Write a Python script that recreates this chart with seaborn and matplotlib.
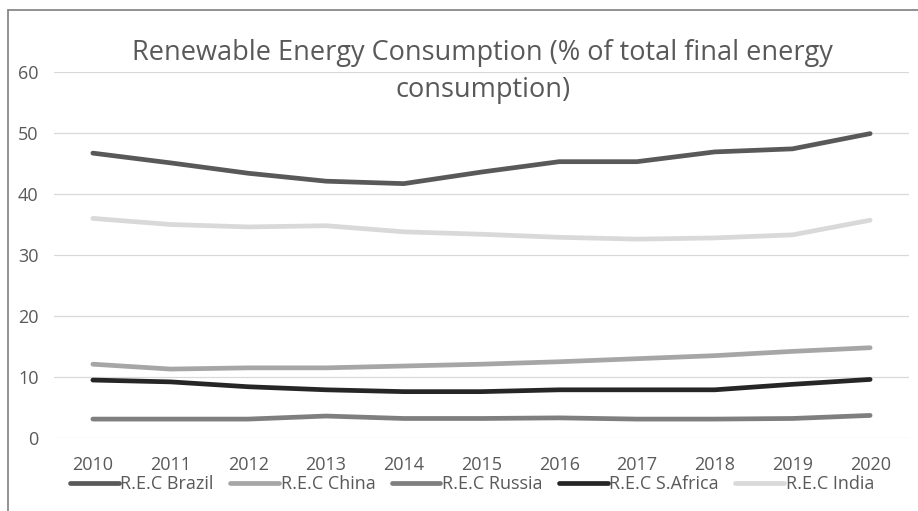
import matplotlib
matplotlib.use("Agg")
import matplotlib.pyplot as plt
import matplotlib.lines as mlines
import seaborn as sns
import pandas as pd

years = [2010, 2011, 2012, 2013, 2014, 2015, 2016, 2017, 2018, 2019, 2020]
brazil = [46.7, 45.1, 43.4, 42.1, 41.7, 43.6, 45.3, 45.3, 46.9, 47.4, 49.9]
china = [12.1, 11.3, 11.5, 11.5, 11.8, 12.1, 12.5, 13.0, 13.5, 14.2, 14.8]
russia = [3.1, 3.1, 3.1, 3.6, 3.2, 3.2, 3.3, 3.1, 3.1, 3.2, 3.7]
s_africa = [9.5, 9.2, 8.4, 7.9, 7.6, 7.6, 7.9, 7.9, 7.9, 8.8, 9.6]
india = [36.0, 35.0, 34.6, 34.8, 33.8, 33.4, 32.9, 32.6, 32.8, 33.3, 35.7]

series_names = ["R.E.C Brazil", "R.E.C China", "R.E.C Russia", "R.E.C S.Africa", "R.E.C India"]
series_values = [brazil, china, russia, s_africa, india]
colors = ["#595959", "#a6a6a6", "#7f7f7f", "#262626", "#d9d9d9"]

title = "Renewable Energy Consumption (% of total final energy\nconsumption)"

rows = []
for name, vals in zip(series_names, series_values):
    for i, (yr, v) in enumerate(zip(years, vals)):
        rows.append({"pos": i, "year": yr, "value": v, "series": name})
df = pd.DataFrame(rows)

sns.set_theme(style="white")
plt.rcParams["font.family"] = ["Open Sans", "DejaVu Sans"]

fig = plt.figure(figsize=(9.18, 5.11), dpi=100)
ax = fig.add_axes([54 / 918, (511 - 438) / 511, (909 - 54) / 918, (438 - 72) / 511])

palette = dict(zip(series_names, colors))
sns.lineplot(data=df, x="pos", y="value", hue="series", palette=palette,
             hue_order=series_names, linewidth=3.4, ax=ax, legend=False,
             solid_capstyle="round")

ax.set_xlim(-0.5, len(years) - 0.5)
ax.set_ylim(0, 60)
ax.set_yticks(range(0, 61, 10))
ax.set_xticks(range(len(years)))
ax.set_xticklabels([str(y) for y in years])
ax.tick_params(axis="both", length=0, labelsize=13, labelcolor="#595959")
ax.tick_params(axis="y", pad=11)
ax.tick_params(axis="x", pad=13)
ax.set_xlabel("")
ax.set_ylabel("")
ax.yaxis.grid(True, color="#d9d9d9", linewidth=0.9)
ax.set_axisbelow(True)
for sp in ax.spines.values():
    sp.set_visible(False)

fig.text(0.526, 1 - 39 / 511, title, ha="center", va="top", fontsize=19.5,
         color="#595959", linespacing=1.42)

handles = [mlines.Line2D([], [], color=c, linewidth=3.4, solid_capstyle="round")
           for c in colors]
fig.legend(handles, series_names, loc="center", ncol=5,
           bbox_to_anchor=(472 / 918, 1 - 484 / 511), frameon=False,
           fontsize=13, labelcolor="#595959", handlelength=2.7,
           handletextpad=0.1, columnspacing=0.9)

# chart border
fig.add_artist(plt.Line2D([8 / 918, 1.0], [1 - 10 / 511, 1 - 10 / 511],
                          transform=fig.transFigure, color="#7f7f7f", linewidth=1.2))
fig.add_artist(plt.Line2D([8 / 918, 8 / 918], [0, 1 - 10 / 511],
                          transform=fig.transFigure, color="#7f7f7f", linewidth=1.2))

fig.savefig("out.png", dpi=100, facecolor="white")
